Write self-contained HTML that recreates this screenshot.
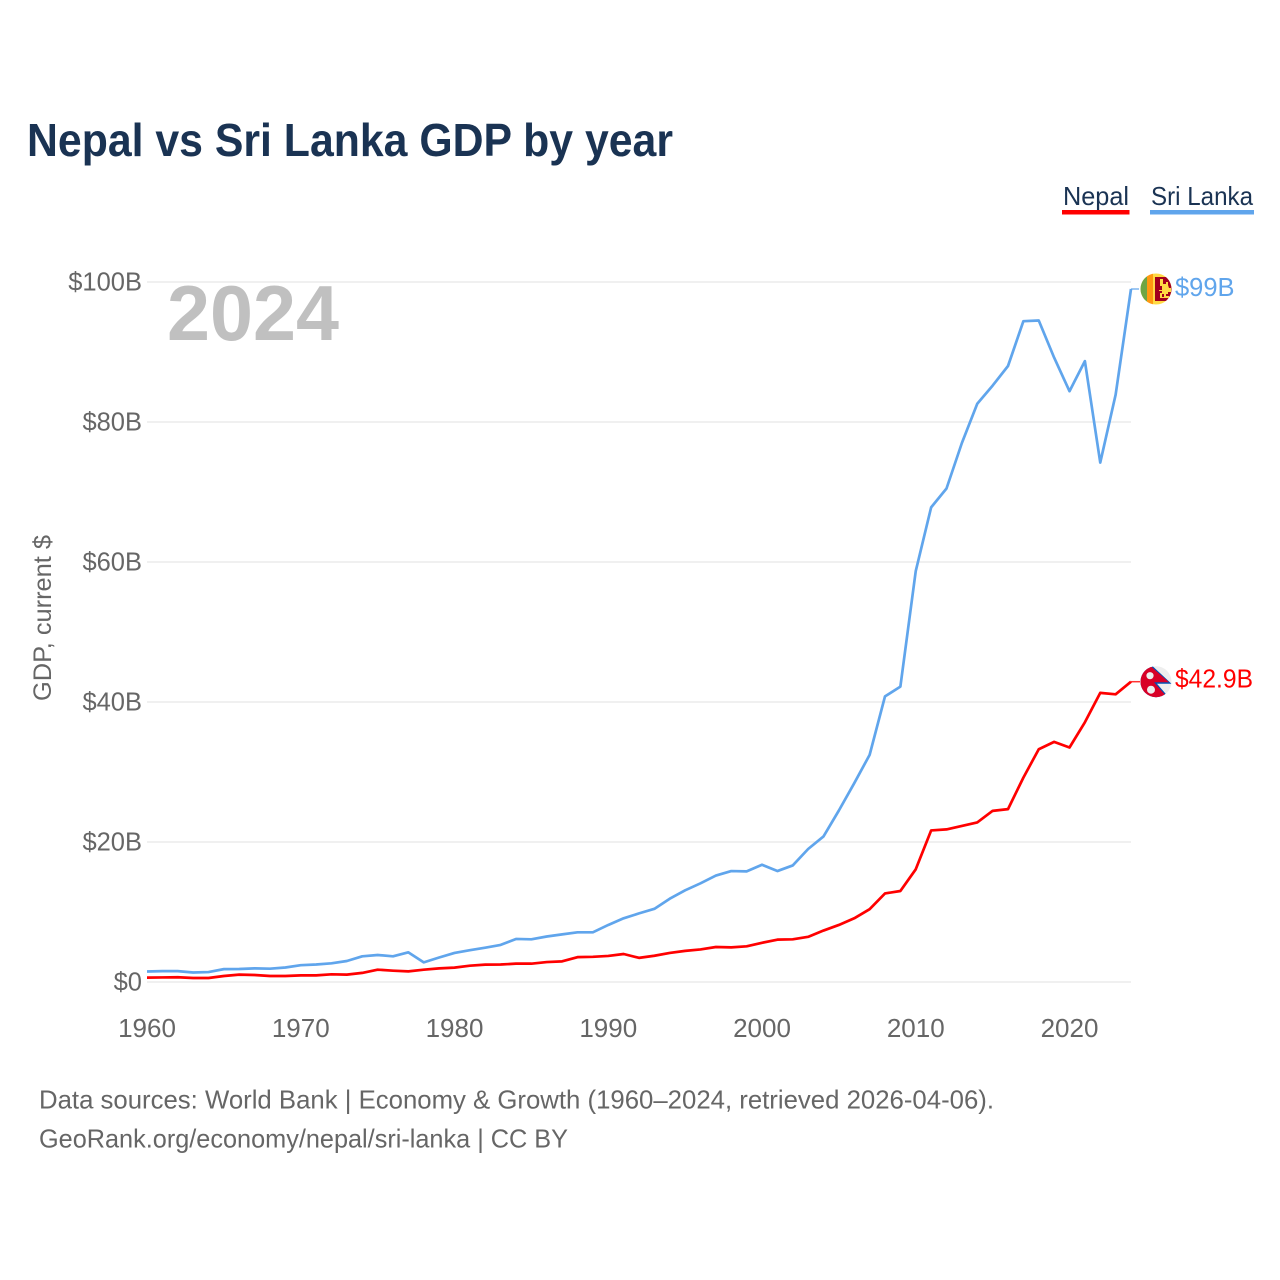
<!DOCTYPE html>
<html lang="en">
<head>
<meta charset="utf-8">
<title>Nepal vs Sri Lanka GDP by year</title>
<style>
html,body{margin:0;padding:0;background:#fff;}
svg{display:block;font-family:"Liberation Sans",sans-serif;}
</style>
</head>
<body>
<svg id="chart" xmlns="http://www.w3.org/2000/svg" width="1280" height="1280" viewBox="0 0 1280 1280">
<rect width="1280" height="1280" fill="#fff"/>
<text x="27" y="156" font-size="46" font-weight="700" fill="#1a3353" textLength="646" lengthAdjust="spacingAndGlyphs">Nepal vs Sri Lanka GDP by year</text>
<g>
<g>
<text x="1063" y="205" font-size="26" fill="#1a3353" textLength="66" lengthAdjust="spacingAndGlyphs">Nepal</text>
<rect x="1062" y="210" width="67.5" height="4.5" fill="#ff0000"/>
</g>
<g>
<text x="1151" y="205" font-size="26" fill="#1a3353" textLength="102" lengthAdjust="spacingAndGlyphs">Sri Lanka</text>
<rect x="1150" y="210" width="104" height="4.5" fill="#60a5ec"/>
</g>
</g>
<g id="grid"></g>
<g id="yticks"></g>
<g id="xticks"></g>
<text transform="translate(51,701) rotate(-90)" font-size="25" fill="#666" textLength="166" lengthAdjust="spacingAndGlyphs">GDP, current $</text>
<text x="167" y="340" font-size="78" font-weight="700" fill="#c0c0c0" textLength="172" lengthAdjust="spacingAndGlyphs">2024</text>
<g id="series"></g>
<g id="endmarks"></g>
<text x="39" y="1108.5" font-size="26" fill="#666" textLength="955" lengthAdjust="spacingAndGlyphs">Data sources: World Bank | Economy &amp; Growth (1960–2024, retrieved 2026-04-06).</text>
<text x="39" y="1147.5" font-size="26" fill="#666" textLength="529" lengthAdjust="spacingAndGlyphs">GeoRank.org/economy/nepal/sri-lanka | CC BY</text>
</svg>
<script>
const startYear = 1960;
const xTickYears = [1960, 1970, 1980, 1990, 2000, 2010, 2020];
const yTickValues = [0, 20, 40, 60, 80, 100];
const yTickLabels = ["$0", "$20B", "$40B", "$60B", "$80B", "$100B"];
const nepalGdp = [0.62,0.65,0.68,0.57,0.57,0.86,1.05,1.0,0.86,0.86,0.95,0.95,1.1,1.05,1.3,1.76,1.62,1.52,1.76,1.95,2.05,2.33,2.48,2.5,2.62,2.62,2.85,2.95,3.55,3.6,3.72,4.0,3.45,3.75,4.15,4.45,4.65,5.0,4.95,5.1,5.6,6.05,6.1,6.45,7.35,8.15,9.1,10.4,12.65,13.0,16.1,21.65,21.8,22.3,22.8,24.45,24.7,29.2,33.25,34.3,33.5,37.1,41.3,41.1,42.9];
const sriLankaGdp = [1.5,1.55,1.55,1.36,1.42,1.84,1.86,1.95,1.9,2.07,2.4,2.5,2.67,3.0,3.67,3.86,3.67,4.24,2.8,3.5,4.15,4.55,4.9,5.3,6.15,6.1,6.5,6.8,7.1,7.1,8.15,9.1,9.8,10.45,11.9,13.1,14.1,15.2,15.85,15.8,16.75,15.85,16.65,19.0,20.8,24.5,28.4,32.45,40.8,42.2,58.7,67.8,70.5,77.0,82.6,85.2,88.0,94.4,94.5,89.2,84.4,88.7,74.2,83.9,99.0];
const nepalEndLabel = "$42.9B";
const sriLankaEndLabel = "$99B";

const NS = "http://www.w3.org/2000/svg";
const xScale = (year) => 147 + (year - 1960) * (984 / 64);
const yScale = (v) => 982 - v * 7;

function make(tag, attrs, parent, content) {
  const el = document.createElementNS(NS, tag);
  for (const k in attrs) el.setAttribute(k, attrs[k]);
  if (content !== undefined) el.textContent = content;
  parent.appendChild(el);
  return el;
}

const gridG = document.getElementById("grid");
const yG = document.getElementById("yticks");
const xG = document.getElementById("xticks");
const seriesG = document.getElementById("series");
const endG = document.getElementById("endmarks");

yTickValues.forEach((v, i) => {
  const line = make("line", {x1: 147, x2: 1131, y1: yScale(v), y2: yScale(v), stroke: "#ececec", "stroke-width": 1.6}, gridG);
  
  
  const label = make("text", {x: 142, y: yScale(v) + 8.5, "text-anchor": "end", "font-size": 25.5, fill: "#666"}, yG, yTickLabels[i]);
  
  
});

xTickYears.forEach((year) => {
  const label = make("text", {x: xScale(year), y: 1037, "text-anchor": "middle", "font-size": 26, fill: "#666"}, xG, String(year));
  
  
});

function drawSeries(values, color, name) {
  const pts = values.map((v, i) => xScale(startYear + i).toFixed(2) + "," + yScale(v).toFixed(2)).join(" ");
  const line = make("polyline", {points: pts, fill: "none", stroke: color, "stroke-width": 2.7, "stroke-linejoin": "round"}, seriesG);
  
  
}
drawSeries(sriLankaGdp, "#60a5ec", "line-sri-lanka");
drawSeries(nepalGdp, "#ff0000", "line-nepal");

function lastY(values) { return yScale(values[values.length - 1]); }
function lastX(values) { return xScale(startYear + values.length - 1); }

/* Sri Lanka end marker */
(function () {
  const y = lastY(sriLankaGdp), x = lastX(sriLankaGdp);
  const conn = make("line", {x1: x, x2: x + 8, y1: y, y2: y, stroke: "#60a5ec", "stroke-width": 1.5, opacity: 0.8}, endG);
  
  
  const g = make("g", {transform: "translate(1156," + y + ")"}, endG);
  
  
  const clip = make("clipPath", {id: "clip-lk"}, g);
  make("circle", {r: 15.5}, clip);
  const f = make("g", {"clip-path": "url(#clip-lk)"}, g);
  make("rect", {x: -16, y: -16, width: 32, height: 32, fill: "#ffda44"}, f);
  make("rect", {x: -16, y: -16, width: 7, height: 32, fill: "#6da544"}, f);
  make("rect", {x: -9, y: -16, width: 6, height: 32, fill: "#ff9811"}, f);
  make("rect", {x: -1, y: -12, width: 17, height: 24, fill: "#a2001d"}, f);
  make("path", {d: "M4 -10h3v5h3v-2h2v3l1 3h2v4h-3v2h-2v2h3v2h-5v-4h-2v3h2v1h-4v-5h2v-2h-3v-1h3v-4h-2z", fill: "#ffda44"}, f);
  const t = make("text", {x: 1175, y: y + 7, "font-size": 25.5, fill: "#60a5ec"}, endG, sriLankaEndLabel);
  
  
})();

/* Nepal end marker */
(function () {
  const y = lastY(nepalGdp), x = lastX(nepalGdp);
  const conn = make("line", {x1: x, x2: x + 9, y1: y, y2: y, stroke: "#ff0000", "stroke-width": 1.5, opacity: 0.8}, endG);
  
  
  const g = make("g", {transform: "translate(1156," + y + ")"}, endG);
  
  
  const clip = make("clipPath", {id: "clip-np"}, g);
  make("circle", {r: 15.5}, clip);
  const f = make("g", {"clip-path": "url(#clip-np)"}, g);
  make("rect", {x: -16, y: -16, width: 32, height: 32, fill: "#eeeeee"}, f);
  make("path", {d: "M-16 -17 L-5 -17 L15.5 2 L1 2 L10.5 13 L10.5 17 L-16 17 Z", fill: "#0052b4"}, f);
  make("path", {d: "M-16 -17 L-7 -17 L13 0.5 L-2 0.5 L9 13 L9 17 L-16 17 Z", fill: "#d80027"}, f);
  make("circle", {cx: -6, cy: -6, r: 3.6, fill: "#eeeeee"}, f);
  make("circle", {cx: -5, cy: 8, r: 4, fill: "#eeeeee"}, f);
  const t = make("text", {x: 1175, y: y + 6, "font-size": 25.5, fill: "#ff0000", textLength: 78, lengthAdjust: "spacingAndGlyphs"}, endG, nepalEndLabel);
  
  
})();
</script>
</body>
</html>
